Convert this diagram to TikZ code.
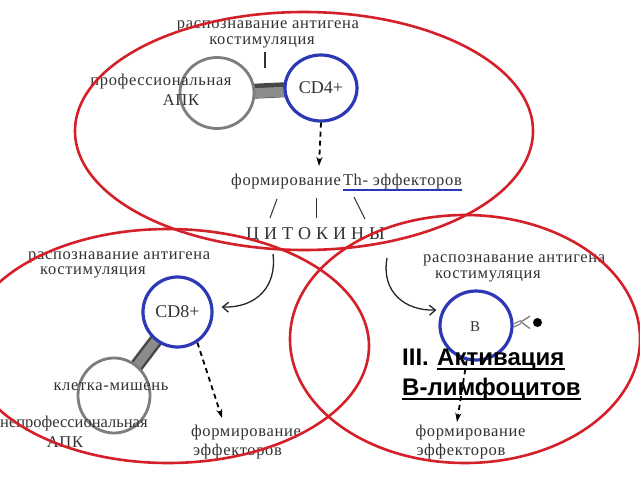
\documentclass[tikz,border=0pt]{standalone}
\usepackage{fontspec}
\setmainfont{Liberation Serif}
\newfontfamily\lblserif[LetterSpace=4]{Liberation Serif}
\newfontfamily\headfont{Liberation Sans}
\usetikzlibrary{arrows.meta,shapes.geometric}
\definecolor{ellred}{RGB}{212,32,40}
\definecolor{cellblue}{RGB}{44,56,180}
\definecolor{cellgray}{RGB}{125,125,125}
\definecolor{txt}{RGB}{50,50,50}
\begin{document}
\begin{tikzpicture}[x=1pt,y=-1pt,
  lbl/.style={inner sep=0pt, text=txt, font=\lblserif\fontsize{16.5}{16.5}\selectfont},
  celltext/.style={inner sep=0pt, text=txt, font=\fontsize{18}{18}\selectfont},
  head/.style={inner sep=0pt, text=black, font=\headfont\bfseries\fontsize{24}{24}\selectfont, anchor=base west},
  bluecell/.style={ellipse, draw=cellblue, line width=3.2pt, fill=white, inner sep=0pt},
  graycell/.style={ellipse, draw=cellgray, line width=2.8pt, fill=white, inner sep=0pt},
  barout/.style={line width=15pt, draw=black!72},
  barin/.style={line width=10pt, draw=black!45},
  thin/.style={draw=txt, line width=1pt},
  dasharrow/.style={draw=black, line width=1.8pt, dash pattern=on 5pt off 4pt, -{Stealth[length=9pt,width=6pt]}},
  curvearrow/.style={draw=black!85, line width=1.3pt, -{Straight Barb[length=6pt,width=10pt]}},
  redell/.style={draw=ellred, line width=2.6pt},
]
\useasboundingbox (0,0) rectangle (640,480);
\clip (0,0) rectangle (640,480);
\fill[white] (0,0) rectangle (640,480);

% ---------- top ----------
\coordinate (apcc) at (217,93);
\coordinate (cd4c) at (321,88);
\draw[barout] (apcc) -- (cd4c);
\draw[barin] ([yshift=-2pt]apcc) -- ([yshift=-2pt]cd4c);
\node[graycell, minimum width=74pt, minimum height=71pt] (apc) at (apcc) {};
\node[bluecell, minimum width=72pt, minimum height=66pt] (cd4) at (cd4c) {};
\node[celltext] (cd4t) at (321,88) {CD4+};
\node[lbl, align=center, font=\lblserif\fontsize{16.5}{16}\selectfont] (rec1) at (268,34) {распознавание антигена\\костимуляция\hspace*{12pt}};
\node[lbl] (prof) at (161,82) {профессиональная};
\node[lbl] (apk1) at (181,100) {АПК};
\coordinate (t1) at (265,52);
\coordinate (t2) at (265,68);
\draw[thin, line width=1.5pt] (t1) -- (t2);
\coordinate (a1e) at (319,166);
\draw[dasharrow] (cd4.south) -- (a1e);
\node[lbl, anchor=west] (form1) at (231,182) {формирование};
\node[lbl, anchor=east] (th) at (462,182) {Th- эффекторов};
\draw[cellblue, line width=2pt] ([yshift=-4pt]th.base west) -- ([yshift=-4pt]th.base east);
\coordinate (s1a) at (270,218); \coordinate (s1b) at (277,199);
\coordinate (s2a) at (316,198); \coordinate (s2b) at (316,218);
\coordinate (s3a) at (354,197); \coordinate (s3b) at (365,219);
\draw[thin] (s1a) -- (s1b);
\draw[thin] (s2a) -- (s2b);
\draw[thin] (s3a) -- (s3b);
\node[lbl, font=\fontsize{18}{18}\selectfont] (cyto) at (315.5,235) {Ц\kern5ptИ\kern5ptТ\kern5ptО\kern5ptК\kern5ptИ\kern5ptН\kern5ptЫ};

% ---------- bottom left ----------
\coordinate (cd8c) at (177.5,312);
\coordinate (tgc) at (114,395.5);
\draw[barout, line width=14pt] (cd8c) -- (tgc);
\draw[barin, line width=9pt] (cd8c) -- (tgc);
\node[bluecell, minimum width=69pt, minimum height=70pt] (cd8) at (cd8c) {};
\node[graycell, minimum width=72pt, minimum height=75pt] (tg) at (tgc) {};
\node[celltext] (cd8t) at (177.5,312) {CD8+};
\node[lbl, align=left, anchor=west, font=\lblserif\fontsize{16.5}{15}\selectfont] (rec2) at (28,264.5) {распознавание антигена\\\hspace*{12pt}костимуляция};
\node[lbl] (tgt) at (111,387) {клетка-мишень};
\node[lbl, anchor=west, font=\fontsize{16.5}{16.5}\selectfont] (nprof) at (0,424) {непрофессиональная};
\node[lbl] (apk2) at (65,442) {АПК};
\coordinate (c1s) at (273,254);
\draw[curvearrow] (c1s) .. controls (277,287) and (256,308) .. ([shift={(8,-5)}]cd8.east);
\coordinate (a2e) at (222,418);
\draw[dasharrow] (cd8.-57) -- (a2e);
\node[lbl] (form2) at (246,433) {формирование};
\node[lbl] (eff2) at (237.5,452) {эффекторов};

% ---------- bottom right ----------
\node[bluecell, minimum width=72pt, minimum height=69pt] (bc) at (476,325.5) {};
\node[celltext, font=\fontsize{15}{15}\selectfont] (bt) at (475,327) {B};
\node[lbl, align=left, anchor=west, font=\lblserif\fontsize{16.5}{15.5}\selectfont] (rec3) at (423,268.5) {распознавание антигена\\\hspace*{12pt}костимуляция};
\coordinate (c2s) at (387,258);
\draw[curvearrow] (c2s) .. controls (381,292) and (405,311) .. ([shift={(-2,-15.5)}]bc.west);
\coordinate (abv) at (521,322);
\coordinate (abu) at (530,316);
\coordinate (abd) at (530,328.5);
\draw[cellgray, line width=1.1pt] ([yshift=1.6pt]bc.east) -- ([yshift=1.6pt]abv);
\draw[cellgray, line width=1.1pt] ([yshift=-1.6pt]bc.east) -- ([yshift=-1.6pt]abv);
\draw[cellgray, line width=1.3pt] (abu) -- (abv) -- (abd);
\node[circle, fill=black, inner sep=0pt, minimum size=9pt] (ag) at (537.5,322.5) {};
\coordinate (a3e) at (457,422);
\draw[dasharrow] (bc.-105) -- (a3e);
\node[head] (iii) at (402,365) {III.};
\node[head] (akt) at (437,365) {Активация};
\node[head] (blym) at (402,395) {В-лимфоцитов};
\draw[black, line width=1.8pt] ([yshift=-4pt]akt.base west) -- ([yshift=-4pt]akt.base east);
\draw[black, line width=1.8pt] ([yshift=-4pt]blym.base west) -- ([yshift=-4pt]blym.base east);
\node[lbl] (form3) at (470.5,433) {формирование};
\node[lbl] (eff3) at (461,452) {эффекторов};

% ---------- red ellipses ----------
\draw[redell] (304,131) ellipse [x radius=229, y radius=119];
\draw[redell] (168,346) ellipse [x radius=201, y radius=117];
\draw[redell] (465,339) ellipse [x radius=175, y radius=124];
\end{tikzpicture}
\end{document}
